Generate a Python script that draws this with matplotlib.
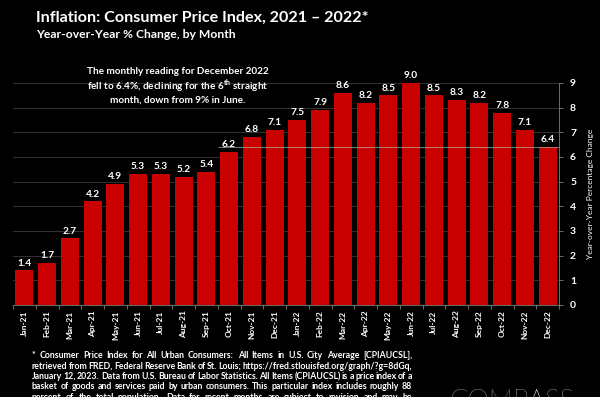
"""
CPI inflation, year-over-year % change by month, 2021-2022.
Dark slide style bar chart.
"""

import matplotlib
matplotlib.use('Agg')
import matplotlib.pyplot as plt
from matplotlib.ticker import FixedLocator, NullFormatter

# Data
MONTHS = ['Jan-21', 'Feb-21', 'Mar-21', 'Apr-21', 'May-21', 'Jun-21',
          'Jul-21', 'Aug-21', 'Sep-21', 'Oct-21', 'Nov-21', 'Dec-21',
          'Jan-22', 'Feb-22', 'Mar-22', 'Apr-22', 'May-22', 'Jun-22',
          'Jul-22', 'Aug-22', 'Sep-22', 'Oct-22', 'Nov-22', 'Dec-22']
CPI_YOY = [1.4, 1.7, 2.7, 4.2, 4.9, 5.3, 5.3, 5.2, 5.4, 6.2, 6.8, 7.1,
           7.5, 7.9, 8.6, 8.2, 8.5, 9.0, 8.5, 8.3, 8.2, 7.8, 7.1, 6.4]
Y_TICKS = list(range(0, 10))
LINE_START = 'Oct-21'

TITLE = 'Inflation: Consumer Price Index, 2021 \u2013 2022*'
SUBTITLE = 'Year-over-Year % Change, by Month'
NOTE = ('The monthly reading for December 2022\n'
        'fell to 6.4%, declining for the 6$^{\\mathbf{th}}$ straight\n'
        'month, down from 9% in June.')
FOOTNOTE = [
    '* Consumer Price Index for All Urban Consumers: All Items in U.S. City Average [CPIAUCSL],',
    'retrieved from FRED, Federal Reserve Bank of St. Louis; https://fred.stlouisfed.org/graph/?g=8dGq,',
    'January 12, 2023. Data from U.S. Bureau of Labor Statistics. All Items (CPIAUCSL) is a price index of a',
    'basket of goods and services paid by urban consumers. This particular index includes roughly 88',
    'percent of the total population. Data for recent months are subject to revision and may be',
]

BAR_COLOR = '#c80000'
GRID_COLOR = '#3a3a3a'
FONT = 'Lato'

plt.rcParams['font.family'] = [FONT, 'DejaVu Sans']
plt.rcParams['mathtext.fontset'] = 'custom'
plt.rcParams['mathtext.rm'] = FONT
plt.rcParams['mathtext.bf'] = FONT + ':bold'

W, H = 600, 397
fig = plt.figure(figsize=(W / 100, H / 100), dpi=100)
fig.patch.set_facecolor('black')


def px(x, y):
    return x / W, 1 - y / H


ax = fig.add_axes([13 / W, (H - 305) / H, (559 - 13) / W, (305 - 83) / H])
ax.set_facecolor('black')

x = list(range(len(MONTHS)))
bars = ax.bar(x, CPI_YOY, width=0.8, color=BAR_COLOR, zorder=2)
for b, v in zip(bars, CPI_YOY):
    ax.annotate(f'{v:.1f}', (b.get_x() + b.get_width() / 2, v),
                xytext=(0, 2), textcoords='offset points',
                ha='center', va='bottom', color='white',
                fontsize=7.3, fontweight='bold')

# reference line at the latest reading
ax.hlines(CPI_YOY[-1], MONTHS.index(LINE_START) - 0.5, len(MONTHS) - 0.5,
          color='#b0b0b0', lw=0.6, alpha=0.8, zorder=3)

ax.set_xlim(-0.5, len(MONTHS) - 0.5)
ax.set_ylim(0, 9)
ax.set_yticks(Y_TICKS)
ax.yaxis.tick_right()
ax.yaxis.set_label_position('right')
ax.grid(axis='y', color=GRID_COLOR, lw=0.6, zorder=0)
ax.set_axisbelow(True)

ax.set_xticks(x)
ax.set_xticklabels(MONTHS, rotation=90, fontsize=6, fontweight='bold', color='white')
ax.xaxis.set_minor_locator(FixedLocator([i - 0.5 for i in range(len(MONTHS) + 1)]))
ax.xaxis.set_minor_formatter(NullFormatter())
ax.tick_params(axis='x', which='major', length=0, pad=4)
ax.tick_params(axis='x', which='minor', length=3, color='#808080', width=0.6)
ax.tick_params(axis='y', length=3, color='#808080', width=0.6, labelsize=7.5,
               labelcolor='white', pad=5)
for lbl in ax.get_yticklabels():
    lbl.set_fontweight('bold')
ax.set_ylabel('Year-over-Year Percentage Change', color='white', fontsize=6, labelpad=8)

for side in ['top', 'left']:
    ax.spines[side].set_visible(False)
ax.spines['right'].set_color('#808080')
ax.spines['bottom'].set_color('#808080')
ax.spines['right'].set_linewidth(0.6)
ax.spines['bottom'].set_linewidth(0.6)

# Titles
fig.text(*px(36, 18), TITLE, color='white', fontsize=11.6, fontweight='bold',
         va='center', ha='left')
fig.text(*px(36, 35), SUBTITLE, color='white', fontsize=8.7, fontweight='bold',
         va='center', ha='left')

# Callout
fig.text(*px(178, 86), NOTE, color='white', fontsize=7.2, fontweight='bold',
         ha='center', va='center', linespacing=1.12)

# Footnote, justified
fig.canvas.draw()
renderer = fig.canvas.get_renderer()
left, right = 32, 412
for i, line in enumerate(FOOTNOTE):
    words = line.split(' ')
    y = 356 + i * 10.3
    texts, widths = [], []
    for w in words:
        t = fig.text(*px(0, y), w, color='white', fontsize=6.3, fontweight='bold',
                     va='center', ha='left')
        texts.append(t)
        widths.append(t.get_window_extent(renderer).width)
    gap = (right - left - sum(widths)) / max(len(words) - 1, 1)
    cur = left
    for t, wd in zip(texts, widths):
        t.set_position(px(cur, y))
        cur += wd + gap

# Logo, clipped by the bottom edge
fig.text(*px(512, 409), 'COMPASS', color='white', fontsize=19.5, fontweight='light',
         ha='center', va='baseline')

fig.savefig('out.png', dpi=100, facecolor='black')
